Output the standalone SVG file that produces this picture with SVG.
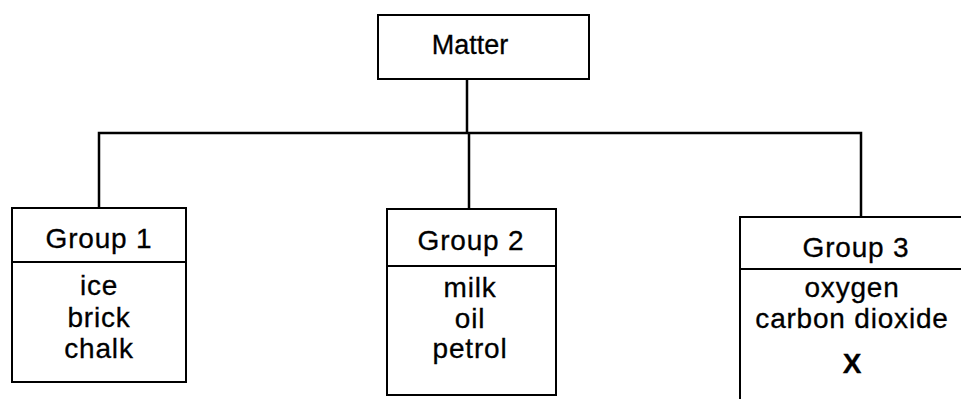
<svg xmlns="http://www.w3.org/2000/svg" width="961" height="399" viewBox="0 0 961 399">
<style>
.box{fill:#fff;stroke:#000;stroke-width:2}
.ln{fill:none;stroke:#000;stroke-width:2.5}
.t{font-family:"Liberation Sans",Arial,sans-serif;font-size:28px;fill:#000;stroke:#000;stroke-width:0.3;text-anchor:middle;letter-spacing:0.8px}
.m{font-size:27px;letter-spacing:0}
.x{font-weight:bold;letter-spacing:0}
</style>
<rect width="961" height="399" fill="#fff"/>
<g id="connectors">
<path class="ln" d="M467 79V133M99 208V133H861V217M469 133V209"/>
</g>
<g id="matter">
<rect class="box" x="378" y="15" width="211" height="64"/>
<text class="t m" x="470" y="54">Matter</text>
</g>
<g id="group1">
<rect class="box" x="12" y="208" width="174" height="174"/>
<line class="box" x1="12" y1="262" x2="186" y2="262"/>
<text class="t" x="99" y="248">Group 1</text>
<text class="t" x="99" y="295">ice</text>
<text class="t" x="99" y="327">brick</text>
<text class="t" x="99" y="358">chalk</text>
</g>
<g id="group2">
<rect class="box" x="387" y="209" width="169" height="186"/>
<line class="box" x1="387" y1="266" x2="556" y2="266"/>
<text class="t" x="471" y="250">Group 2</text>
<text class="t" x="470" y="297">milk</text>
<text class="t" x="470" y="328">oil</text>
<text class="t" x="470" y="358">petrol</text>
</g>
<g id="group3">
<rect class="box" x="740" y="217" width="224" height="190"/>
<line class="box" x1="740" y1="269" x2="964" y2="269"/>
<text class="t" x="856" y="257">Group 3</text>
<text class="t" x="852" y="297">oxygen</text>
<text class="t" x="852" y="328">carbon dioxide</text>
<text class="t x" x="852" y="373">X</text>
</g>
</svg>
